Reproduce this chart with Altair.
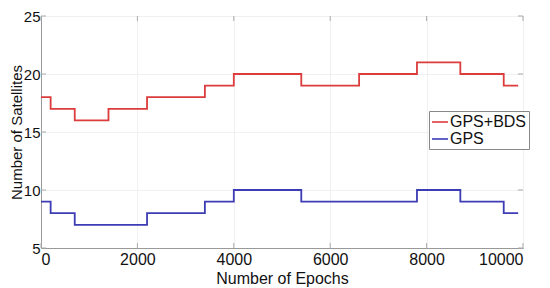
import altair as alt
import pandas as pd

# Step data (epoch where the value starts, number of satellites)
bds_epochs = [0, 200, 700, 1400, 2200, 3400, 4000, 5400, 6600, 7800, 8700, 9600, 9900]
bds_values = [18, 17, 16, 17, 18, 19, 20, 19, 20, 21, 20, 19, 19]
gps_epochs = [0, 200, 700, 2200, 3400, 4000, 5400, 7800, 8700, 9600, 9900]
gps_values = [9, 8, 7, 8, 9, 10, 9, 10, 9, 8, 8]

series_names = ["GPS+BDS", "GPS"]
series_colors = ["#dc3c3c", "#3c3cb4"]

x_ticks = [0, 2000, 4000, 6000, 8000, 10000]
y_ticks = [5, 10, 15, 20, 25]

W, H = 482, 232
FONT = "Liberation Sans"

df = pd.concat([
    pd.DataFrame({"epoch": bds_epochs, "sats": bds_values, "series": series_names[0]}),
    pd.DataFrame({"epoch": gps_epochs, "sats": gps_values, "series": series_names[1]}),
])

xscale = alt.Scale(domain=[0, 10000], nice=False)
yscale = alt.Scale(domain=[5, 25], nice=False)

lines = alt.Chart(df).mark_line(interpolate="step-after", strokeWidth=1.8).encode(
    x=alt.X("epoch:Q", scale=xscale,
            axis=alt.Axis(values=x_ticks, title="Number of Epochs", format="d",
                          labelPadding=3, titlePadding=3, tickSize=0,
                          labelFontSize=16, titleFontSize=16,
                          gridColor="#f0f0f0", domainColor="#999999")),
    y=alt.Y("sats:Q", scale=yscale,
            axis=alt.Axis(values=y_ticks, title="Number of Satellites",
                          labelPadding=1, tickSize=0, titleX=-17, titleBaseline="bottom",
                          labelFontSize=15, titleFontSize=15,
                          gridColor="#f0f0f0", domainColor="#999999")),
    color=alt.Color("series:N",
                    scale=alt.Scale(domain=series_names, range=series_colors),
                    legend=alt.Legend(title=None, orient="none", legendX=388, legendY=95,
                                      symbolType="stroke", symbolSize=256,
                                      symbolStrokeWidth=1.6, labelFontSize=16,
                                      labelFont=FONT, labelColor="#111111",
                                      strokeColor="#888888", fillColor="white",
                                      padding=2, rowPadding=0, labelOffset=1,
                                      symbolOffset=0)),
)

xt = pd.DataFrame({"x": x_ticks})
yt = pd.DataFrame({"y": y_ticks})
tick_color = "#aaaaaa"
top_ticks = alt.Chart(xt).mark_rule(color=tick_color).encode(
    x=alt.X("x:Q", scale=xscale), y=alt.value(0), y2=alt.value(5))
bot_ticks = alt.Chart(xt).mark_rule(color=tick_color).encode(
    x=alt.X("x:Q", scale=xscale), y=alt.value(H - 5), y2=alt.value(H))
left_ticks = alt.Chart(yt).mark_rule(color=tick_color).encode(
    y=alt.Y("y:Q", scale=yscale), x=alt.value(0), x2=alt.value(5))
right_ticks = alt.Chart(yt).mark_rule(color=tick_color).encode(
    y=alt.Y("y:Q", scale=yscale), x=alt.value(W - 5), x2=alt.value(W))

chart = alt.layer(top_ticks, bot_ticks, left_ticks, right_ticks, lines).properties(
    width=W, height=H,
    autosize=alt.AutoSizeParams(type="none"),
    padding={"left": 33, "top": 8, "right": 19, "bottom": 40},
).configure_view(stroke="#999999", strokeWidth=1).configure_axis(
    labelFont=FONT, titleFont=FONT,
    labelColor="#111111", titleColor="#111111", titleFontWeight="normal",
)

chart.save("out.html", embed_options={"renderer": "svg", "actions": False})
